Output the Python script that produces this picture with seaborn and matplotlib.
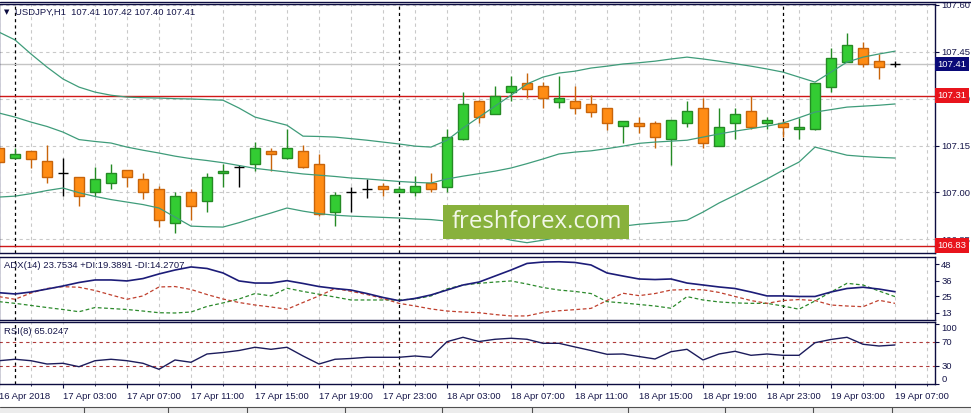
import numpy as np
import pandas as pd
import matplotlib
matplotlib.use("Agg")
import matplotlib.pyplot as plt
import seaborn as sns
from matplotlib.lines import Line2D
from matplotlib.patches import Rectangle
from matplotlib.transforms import blended_transform_factory

# USDJPY H1 bars, 16 Apr 23:00 .. 19 Apr 07:00 (57 bars)
open_ = [107.141, 107.109, 107.132, 107.100, 107.061, 107.050, 107.000, 107.029, 107.071, 107.042,
         107.010, 106.901, 107.000, 106.972, 107.061, 107.080, 107.090, 107.132, 107.109, 107.132,
         107.090, 106.938, 107.000, 107.011, 107.020, 107.000, 107.000, 107.029, 107.018, 107.170,
         107.292, 107.250, 107.320, 107.349, 107.340, 107.290, 107.292, 107.282, 107.269, 107.212,
         107.221, 107.221, 107.170, 107.221, 107.269, 107.149, 107.221, 107.260, 107.221, 107.221,
         107.202, 107.202, 107.338, 107.418, 107.461, 107.420, 107.410]
high = [107.145, 107.141, 107.133, 107.151, 107.109, 107.050, 107.080, 107.091, 107.072, 107.061,
        107.020, 107.000, 107.010, 107.061, 107.091, 107.088, 107.160, 107.141, 107.203, 107.151,
        107.123, 107.000, 107.018, 107.042, 107.031, 107.021, 107.052, 107.061, 107.202, 107.320,
        107.295, 107.340, 107.372, 107.381, 107.352, 107.372, 107.340, 107.311, 107.270, 107.230,
        107.240, 107.229, 107.232, 107.292, 107.301, 107.269, 107.269, 107.309, 107.240, 107.229,
        107.239, 107.350, 107.461, 107.509, 107.480, 107.442, 107.420]
low = [107.095, 107.107, 107.079, 107.029, 106.989, 106.957, 106.989, 107.010, 107.018, 106.979,
       106.890, 106.869, 106.911, 106.938, 107.018, 107.018, 107.069, 107.069, 107.108, 107.079,
       106.925, 106.892, 106.938, 106.981, 106.989, 107.000, 106.989, 107.000, 107.000, 107.169,
       107.221, 107.250, 107.292, 107.301, 107.269, 107.269, 107.250, 107.240, 107.199, 107.159,
       107.189, 107.141, 107.087, 107.210, 107.141, 107.149, 107.170, 107.202, 107.202, 107.178,
       107.170, 107.200, 107.320, 107.418, 107.402, 107.362, 107.400]
close = [107.098, 107.123, 107.107, 107.050, 107.061, 106.989, 107.042, 107.061, 107.050, 107.000,
         106.911, 106.989, 106.957, 107.050, 107.070, 107.080, 107.141, 107.122, 107.141, 107.080,
         106.930, 106.991, 107.000, 107.011, 107.010, 107.011, 107.020, 107.010, 107.178, 107.282,
         107.240, 107.309, 107.340, 107.330, 107.301, 107.301, 107.269, 107.258, 107.221, 107.229,
         107.212, 107.178, 107.231, 107.260, 107.159, 107.210, 107.250, 107.210, 107.231, 107.210,
         107.210, 107.349, 107.429, 107.471, 107.410, 107.400, 107.410]

bb_upper = [107.513, 107.488, 107.443, 107.401, 107.363, 107.337, 107.321, 107.311, 107.305, 107.303,
            107.302, 107.300, 107.299, 107.297, 107.295, 107.270, 107.241, 107.228, 107.215, 107.180,
            107.179, 107.177, 107.172, 107.167, 107.161, 107.155, 107.148, 107.145, 107.167, 107.206,
            107.241, 107.276, 107.311, 107.347, 107.369, 107.382, 107.388, 107.398, 107.404, 107.411,
            107.415, 107.420, 107.427, 107.433, 107.427, 107.420, 107.412, 107.404, 107.395, 107.385,
            107.369, 107.353, 107.385, 107.417, 107.433, 107.443, 107.452]
bb_middle = [107.254, 107.241, 107.225, 107.211, 107.193, 107.169, 107.163, 107.158, 107.145, 107.135,
             107.126, 107.116, 107.108, 107.102, 107.095, 107.086, 107.077, 107.071, 107.065, 107.059,
             107.055, 107.051, 107.046, 107.043, 107.039, 107.035, 107.032, 107.030, 107.043, 107.052,
             107.060, 107.068, 107.078, 107.092, 107.107, 107.123, 107.129, 107.133, 107.140, 107.148,
             107.157, 107.161, 107.164, 107.167, 107.177, 107.187, 107.196, 107.204, 107.212, 107.222,
             107.239, 107.257, 107.265, 107.273, 107.276, 107.279, 107.283]
bb_lower = [106.985, 106.988, 106.996, 107.006, 107.014, 106.999, 106.987, 106.977, 106.969, 106.961,
            106.950, 106.921, 106.892, 106.890, 106.889, 106.903, 106.919, 106.934, 106.950, 106.940,
            106.932, 106.927, 106.924, 106.922, 106.920, 106.918, 106.915, 106.913, 106.908, 106.892,
            106.874, 106.860, 106.847, 106.839, 106.847, 106.857, 106.866, 106.876, 106.884, 106.892,
            106.898, 106.902, 106.906, 106.911, 106.937, 106.966, 106.991, 107.017, 107.043, 107.071,
            107.097, 107.145, 107.132, 107.119, 107.115, 107.112, 107.110]

adx = [27.5, 26.6, 28.0, 30.1, 32.3, 34.8, 36.6, 36.6, 35.9, 37.6,
       40.9, 43.7, 45.9, 44.8, 41.6, 35.9, 34.4, 34.4, 36.1, 34.1,
       31.9, 30.5, 29.4, 26.9, 24.1, 21.8, 23.4, 25.9, 29.4, 33.0,
       35.1, 39.4, 43.7, 48.4, 49.4, 49.6, 49.1, 47.3, 41.6, 39.4,
       37.3, 36.9, 37.3, 34.4, 33.0, 31.6, 30.5, 28.0, 25.2, 25.2,
       24.8, 24.8, 28.0, 30.5, 31.4, 30.1, 28.2]
plus_di = [21.1, 19.9, 18.4, 16.9, 15.5, 13.9, 16.9, 16.2, 15.5, 14.4,
           13.2, 13.0, 13.7, 17.7, 20.2, 23.0, 26.9, 25.2, 30.7, 28.4,
           26.4, 24.4, 22.3, 22.3, 22.3, 22.3, 23.0, 25.2, 30.2, 33.0,
           34.2, 35.1, 35.9, 33.7, 31.2, 29.4, 28.4, 26.9, 21.1, 20.2,
           19.1, 18.0, 16.4, 24.7, 22.3, 20.9, 20.2, 19.9, 19.9, 18.0,
           15.7, 21.6, 28.0, 34.2, 33.0, 28.7, 24.7]
minus_di = [24.7, 22.8, 27.3, 30.5, 31.8, 31.4, 29.1, 25.9, 22.8, 25.2,
            31.6, 31.9, 29.8, 26.2, 23.0, 20.5, 18.7, 17.3, 15.7, 20.5,
            25.2, 30.5, 28.5, 26.2, 23.4, 19.9, 18.0, 15.9, 14.4, 13.7,
            13.2, 11.9, 10.9, 10.9, 13.4, 14.6, 15.4, 16.3, 21.9, 27.1,
            25.4, 26.9, 29.4, 29.7, 29.6, 27.7, 24.8, 21.9, 19.9, 21.9,
            22.6, 21.9, 18.7, 18.0, 17.5, 22.1, 19.9]
rsi = [38.8, 41.2, 38.8, 33.3, 34.5, 28.8, 38.8, 41.2, 38.8, 34.5,
       24.5, 40.0, 36.2, 50.0, 52.5, 55.8, 61.2, 57.8, 61.2, 46.7,
       33.3, 41.2, 42.5, 44.5, 44.5, 44.5, 46.7, 44.5, 70.5, 77.8,
       70.8, 74.5, 76.2, 74.5, 67.8, 67.8, 61.7, 55.8, 49.5, 50.0,
       45.8, 41.7, 53.8, 57.8, 40.0, 50.0, 54.5, 47.8, 50.0, 47.8,
       47.8, 68.8, 74.2, 77.8, 66.2, 63.3, 65.0]

time_labels = ["16 Apr 2018", "17 Apr 03:00", "17 Apr 07:00", "17 Apr 11:00", "17 Apr 15:00",
               "17 Apr 19:00", "17 Apr 23:00", "18 Apr 03:00", "18 Apr 07:00", "18 Apr 11:00",
               "18 Apr 15:00", "18 Apr 19:00", "18 Apr 23:00", "19 Apr 03:00", "19 Apr 07:00"]
label_bars = list(range(0, 57, 4))
day_start_bars = [1, 25, 49]

levels = [107.31, 106.83]
bid = 107.41
price_ticks = [106.85, 107.00, 107.15, 107.30, 107.45, 107.60]
adx_ticks = [13, 25, 36, 48]
rsi_ticks = [0, 30, 70, 100]

df = pd.DataFrame({
    "bar": np.arange(len(close)), "open": open_, "high": high, "low": low, "close": close,
    "upper": bb_upper, "middle": bb_middle, "lower": bb_lower,
    "adx": adx, "pdi": plus_di, "mdi": minus_di, "rsi": rsi,
})

sns.set_style("white")
plt.rcParams["font.family"] = ["Liberation Sans", "DejaVu Sans"]

FG = "#16164a"
FRAME = "#0c0c40"
GRID = "#c9c9c9"
FS = 6.8
W, H = 971, 413

fig = plt.figure(figsize=(W / 100, H / 100), dpi=100)
fig.patch.set_facecolor("white")


def box(top, bottom, left=-1, right=935):
    return [left / W, 1 - bottom / H, (right - left) / W, (bottom - top) / H]


ax = fig.add_axes(box(4, 253))
ax_adx = fig.add_axes(box(257, 320))
ax_rsi = fig.add_axes(box(322, 384))

for a in (ax, ax_adx, ax_rsi):
    a.set_xlim(0, 58.5)
    for k in range(0, 59, 2):
        a.axvline(k, color=GRID, lw=0.8, ls=(0, (3, 3)), zorder=0)
    for d in day_start_bars:
        a.axvline(d, color="black", lw=0.9, ls=(0, (2.5, 2.5)), zorder=1)
    for s in a.spines.values():
        s.set_color(FRAME)
        s.set_linewidth(1.0)
    a.yaxis.tick_right()
    a.tick_params(axis="y", right=True, left=False, length=3, width=0.8, color=FRAME,
                  labelsize=FS, labelcolor=FG, pad=1.5)

# ---- main price panel
ax.set_ylim(106.806, 107.603)
for p in price_ticks:
    ax.axhline(p, color=GRID, lw=0.8, ls=(0, (3, 3)), zorder=0)
ax.axhline(bid, color="#c4c4c4", lw=1.0, zorder=1)
for lv in levels:
    ax.axhline(lv, color="#d01818", lw=1.0, zorder=2)

doji = (df["close"] - df["open"]).abs() < 0.002
bull = (df["close"] > df["open"]) & ~doji
bear = (df["close"] < df["open"]) & ~doji
for mask, fill, edge in ((bull, "#33cc33", "#248a24"), (bear, "#ff8c14", "#c8640a")):
    sub = df[mask]
    ax.vlines(sub["bar"], sub["low"], sub["high"], color=edge, lw=1.0, zorder=3)
    ax.bar(sub["bar"], (sub["close"] - sub["open"]).abs(),
           bottom=np.minimum(sub["open"], sub["close"]), width=0.62,
           color=fill, edgecolor=edge, linewidth=1.0, zorder=4)
sub = df[doji]
ax.vlines(sub["bar"], sub["low"], sub["high"], color="black", lw=1.0, zorder=4)
ax.hlines(sub["open"], sub["bar"] - 0.33, sub["bar"] + 0.33, color="black", lw=1.0, zorder=4)

for col in ("upper", "middle", "lower"):
    sns.lineplot(data=df, x="bar", y=col, ax=ax, color="#3f9c7a", linewidth=0.9,
                 legend=False, zorder=5)

ax.set_yticks(price_ticks)
ax.set_yticklabels([f"{p:.2f}" for p in price_ticks])
ax.set_xticks(label_bars)
ax.tick_params(axis="x", bottom=False, labelbottom=False)
ax.set_xlabel("")
ax.set_ylabel("")

tr = blended_transform_factory(ax.transAxes, ax.transData)
for val, face in ((bid, "#0a0a78"), (levels[0], "#e8141c"), (levels[1], "#e8141c")):
    ax.text(1.0023, val, f"{val:.2f}", transform=tr, color="white", fontsize=FS,
            va="center", ha="left", clip_on=False, zorder=10,
            bbox=dict(facecolor=face, edgecolor="none", boxstyle="square,pad=0.28"))

# ---- ADX panel
ax_adx.set_ylim(8, 53)
sns.lineplot(data=df, x="bar", y="adx", ax=ax_adx, color="#1c1c78", linewidth=1.2, legend=False, zorder=4)
sns.lineplot(data=df, x="bar", y="pdi", ax=ax_adx, color="#2c8a2c", linewidth=0.9,
             linestyle=(0, (3, 2)), legend=False, zorder=3)
sns.lineplot(data=df, x="bar", y="mdi", ax=ax_adx, color="#c0402e", linewidth=0.9,
             linestyle=(0, (3, 2)), legend=False, zorder=3)
ax_adx.set_yticks(adx_ticks)
ax_adx.set_yticklabels([str(t) for t in adx_ticks])
ax_adx.set_xticks(label_bars)
ax_adx.tick_params(axis="x", bottom=False, labelbottom=False)
ax_adx.set_xlabel("")
ax_adx.set_ylabel("")

# ---- RSI panel
ax_rsi.set_ylim(0, 103.3)
for lv in (30, 70):
    ax_rsi.axhline(lv, color="#b03a3a", lw=0.8, ls=(0, (3, 3)), zorder=1)
sns.lineplot(data=df, x="bar", y="rsi", ax=ax_rsi, color="#1c1c5c", linewidth=1.0, legend=False, zorder=4)
ax_rsi.set_yticks(rsi_ticks)
ax_rsi.set_yticklabels([str(t) for t in rsi_ticks])
ticks = ax_rsi.yaxis.get_major_ticks()
ticks[0].label2.set_va("bottom")
ticks[-1].label2.set_va("top")
ax_rsi.set_xticks(label_bars)
ax_rsi.set_xticklabels(time_labels, ha="left")
ax_rsi.set_xticks(range(0, 59, 2), minor=True)
ax_rsi.tick_params(axis="x", which="major", bottom=True, length=3, width=0.8, color=FRAME,
                   labelsize=FS, labelcolor=FG, pad=2.5)
ax_rsi.tick_params(axis="x", which="minor", bottom=True, length=1.5, width=0.6, color=FRAME)
ax_rsi.set_xlabel("")
ax_rsi.set_ylabel("")

# ---- titles and frame decorations
fig.text(4 / W, 1 - 12 / H, "\u25bc", fontsize=5, color=FRAME, va="center", family="DejaVu Sans")
fig.text(15 / W, 1 - 12 / H, "USDJPY,H1  107.41 107.42 107.40 107.41", fontsize=FS, color=FG, va="center")
fig.text(4 / W, 1 - 266 / H, "ADX(14) 23.7534 +DI:19.3891 -DI:14.2707", fontsize=FS, color=FG, va="center")
fig.text(4 / W, 1 - 331 / H, "RSI(8) 65.0247", fontsize=FS, color=FG, va="center")
fig.add_artist(Line2D([0, 1], [1 - 1.5 / H] * 2, color=FRAME, lw=1.0))

# bottom tab strip
fig.add_artist(Rectangle((0, 0), 1, 6 / H, transform=fig.transFigure, facecolor="#ececec",
                         edgecolor="none", zorder=1))
fig.add_artist(Line2D([0, 1], [6 / H] * 2, color="#505050", lw=0.8))
for sx in (84, 168, 247, 345, 442, 532, 628, 725, 813, 892):
    fig.add_artist(Line2D([sx / W] * 2, [0, 6 / H], color="#505050", lw=0.8))

# watermark
fig.add_artist(Rectangle((443 / W, 1 - 239 / H), 186 / W, 34 / H, transform=fig.transFigure,
                         facecolor="#88b13c", edgecolor="none", zorder=20))
fig.text(537 / W, 1 - 222.5 / H, "freshforex.com", fontsize=17.3, color="#f2f7e8", family="Open Sans",
         ha="center", va="center", zorder=21)

plt.savefig("out.png", dpi=100)
